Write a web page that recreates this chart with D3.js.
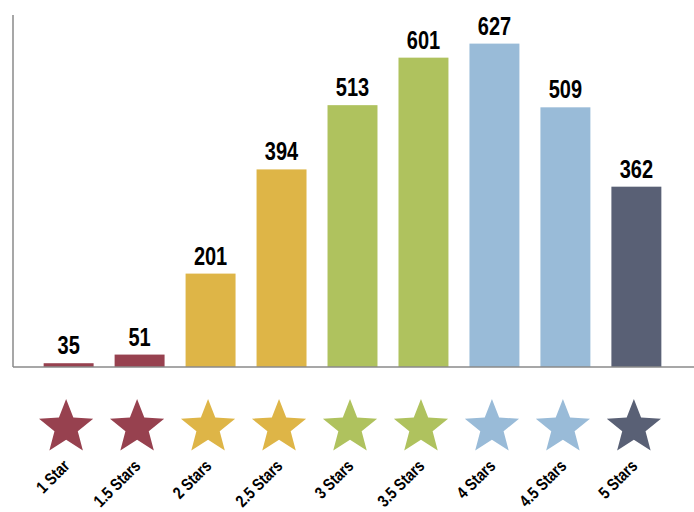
<!DOCTYPE html>
<html>
<head>
<meta charset="utf-8">
<script src="https://cdn.jsdelivr.net/npm/d3@7"></script>
<style>
  body { margin: 0; background: #fff; }
  text { font-family: "Liberation Sans", Arial, sans-serif; font-weight: bold; fill: #000; }
</style>
</head>
<body>
<div id="chart"></div>
<script>
// ratings and number of reviews
var categories = ["1 Star", "1.5 Stars", "2 Stars", "2.5 Stars", "3 Stars", "3.5 Stars", "4 Stars", "4.5 Stars", "5 Stars"];
var counts = [35, 51, 201, 394, 513, 601, 627, 509, 362];
var colors = ["#97414f", "#97414f", "#deb547", "#deb547", "#afc25e", "#afc25e", "#99bbd8", "#99bbd8", "#596075"];

var WIDTH = 694, HEIGHT = 512;
var MARGIN = {LEFT: 13, TOP: 15, BASE: 367};
var NARROW = 0.8;   // no condensed font installed, squeeze the text instead

var svg = d3.select("#chart")
    .append("svg")
    .attr("width", WIDTH)
    .attr("height", HEIGHT);

// x: one band per rating
var x = d3.scaleBand()
    .domain(categories)
    .range([33, 672])
    .paddingInner(0.296)
    .paddingOuter(0.15);

// y: no ticks shown, the original bars are not zero based
var y = d3.scaleLinear()
    .domain([28, 680])
    .range([MARGIN.BASE, MARGIN.TOP])
    .clamp(true);

var data = categories.map(function(c, i) { return {cat: c, value: counts[i], color: colors[i]}; });

// bars
svg.append("g")
    .selectAll("rect")
    .data(data)
    .enter()
    .append("rect")
    .attr("x", function(d) { return x(d.cat); })
    .attr("width", x.bandwidth())
    .attr("y", function(d) { return y(d.value); })
    .attr("height", function(d) { return MARGIN.BASE - y(d.value); })
    .attr("fill", function(d) { return d.color; });

// value labels
svg.append("g")
    .selectAll("text")
    .data(data)
    .enter()
    .append("text")
    .attr("transform", function(d) {
        return "translate(" + (x(d.cat) + x.bandwidth() / 2) + "," + (y(d.value) - 9) + ") scale(" + NARROW + ",1)";
    })
    .attr("text-anchor", "middle")
    .style("font-size", "25px")
    .text(function(d) { return d.value; });

// axes lines
svg.append("line")
    .attr("x1", MARGIN.LEFT).attr("x2", MARGIN.LEFT)
    .attr("y1", MARGIN.TOP).attr("y2", MARGIN.BASE)
    .attr("stroke", "#8a8a8a").attr("stroke-width", 1.5);
svg.append("line")
    .attr("x1", MARGIN.LEFT).attr("x2", WIDTH)
    .attr("y1", MARGIN.BASE).attr("y2", MARGIN.BASE)
    .attr("stroke", "#8a8a8a").attr("stroke-width", 1.5);

// star shape
var R = 28.5, r = R * 0.43;
var starPts = d3.range(10).map(function(i) { return [i * Math.PI / 5, i % 2 ? r : R]; });
var star = d3.lineRadial().curve(d3.curveLinearClosed)(starPts);

svg.append("g")
    .selectAll("path")
    .data(data)
    .enter()
    .append("path")
    .attr("d", star)
    .attr("transform", function(d) { return "translate(" + (x(d.cat) + x.bandwidth() / 2 - 2.5) + ",427.5)"; })
    .attr("fill", function(d) { return d.color; });

// category labels
svg.append("g")
    .selectAll("text")
    .data(data)
    .enter()
    .append("text")
    .attr("text-anchor", "end")
    .attr("transform", function(d) {
        return "translate(" + (x(d.cat) + x.bandwidth() / 2 + 2) + ",467) rotate(-45) scale(0.82,1)";
    })
    .style("font-size", "17px")
    .text(function(d) { return d.cat; });
</script>
</body>
</html>
